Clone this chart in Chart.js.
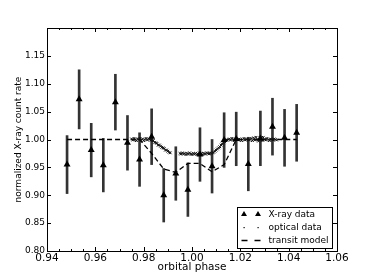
<!DOCTYPE html>
<html>
<head>
<meta charset="utf-8">
<script src="https://cdn.jsdelivr.net/npm/chart.js@4"></script>
<style>
  body { margin: 0; background: #fff; }
  #wrap { width: 374px; height: 280px; }
</style>
</head>
<body>
<div id="wrap"><canvas id="transitChart" width="374" height="280"></canvas></div>
<script>
// X-ray bins (phase, normalized rate, 1-sigma error)
const xrayPhase = [0.9483, 0.9533, 0.9583, 0.9633, 0.9683, 0.9733, 0.9783, 0.9833, 0.9883, 0.9933,
                   0.9983, 1.0033, 1.0083, 1.0133, 1.0183, 1.0233, 1.0283, 1.0333, 1.0383, 1.0433];
const xrayRate = [0.955, 1.072, 0.981, 0.954, 1.067, 0.994, 0.964, 1.005, 0.900, 0.939,
                  0.910, 0.973, 0.952, 0.999, 1.001, 0.956, 1.002, 1.023, 1.003, 1.012];
const xrayErr = [0.052, 0.053, 0.048, 0.048, 0.050, 0.049, 0.048, 0.050, 0.048, 0.048,
                 0.048, 0.048, 0.048, 0.049, 0.048, 0.048, 0.049, 0.051, 0.051, 0.051];

// transit model binned like the X-ray data
const modelPhase = [0.9483, 0.9783, 0.9833, 0.9883, 0.9933, 0.9983, 1.0033, 1.0083, 1.0133, 1.0183, 1.0433];
const modelRate = [1.000, 1.000, 0.975, 0.947, 0.941, 0.957, 0.957, 0.942, 0.955, 1.000, 1.000];

// optical light curve
const opticalPhase = [
  0.9750, 0.9755, 0.9760, 0.9765, 0.9770, 0.9775, 0.9780, 0.9785, 0.9790, 0.9795,
  0.9800, 0.9805, 0.9810, 0.9815, 0.9820, 0.9825,
  0.9830, 0.9835, 0.9840, 0.9845, 0.9850, 0.9855, 0.9860, 0.9865, 0.9870, 0.9875,
  0.9880, 0.9885, 0.9890, 0.9895, 0.9900, 0.9905, 0.9910,
  0.9950, 0.9955, 0.9960, 0.9965, 0.9970, 0.9975, 0.9980, 0.9985, 0.9990, 0.9995,
  1.0000, 1.0005, 1.0010, 1.0015, 1.0020, 1.0025, 1.0030, 1.0035, 1.0040, 1.0045,
  1.0050, 1.0055, 1.0060, 1.0065, 1.0070, 1.0075,
  1.0080, 1.0085, 1.0090, 1.0095, 1.0100, 1.0105, 1.0110, 1.0115, 1.0120, 1.0125,
  1.0130, 1.0135, 1.0140, 1.0145,
  1.0150, 1.0155, 1.0160, 1.0165, 1.0170, 1.0175, 1.0180, 1.0185, 1.0190, 1.0195,
  1.0200, 1.0205, 1.0210, 1.0215, 1.0220, 1.0225, 1.0230, 1.0235, 1.0240, 1.0245,
  1.0250, 1.0255, 1.0260, 1.0265, 1.0270, 1.0275, 1.0280, 1.0285, 1.0290, 1.0295,
  1.0300, 1.0305, 1.0310, 1.0315, 1.0320, 1.0325, 1.0330, 1.0335, 1.0340, 1.0345,
  1.0350
];
const opticalRate = [
  1.001, 0.999, 1.002, 1.000, 0.998, 1.001, 1.000, 1.002, 0.999, 1.001,
  0.998, 1.000, 1.002, 0.999, 1.001, 1.000,
  0.999, 0.998, 0.998, 0.995, 0.994, 0.993, 0.990, 0.990, 0.988, 0.986,
  0.985, 0.984, 0.981, 0.981, 0.979, 0.977, 0.976,
  0.975, 0.974, 0.976, 0.974, 0.975, 0.973, 0.975, 0.974, 0.976, 0.974,
  0.973, 0.975, 0.974, 0.975, 0.973, 0.974, 0.976, 0.974, 0.975, 0.973,
  0.975, 0.974, 0.976, 0.975, 0.974, 0.976,
  0.975, 0.976, 0.977, 0.979, 0.981, 0.983, 0.985, 0.987, 0.990, 0.992,
  0.994, 0.996, 0.998, 0.999,
  1.000, 1.001, 0.999, 1.002, 1.000, 0.998, 1.001, 1.000, 0.999, 1.001,
  1.000, 0.998, 1.000, 1.002, 0.999, 1.000, 1.001, 0.999, 1.000, 1.002,
  0.998, 1.003, 0.999, 1.004, 1.000, 0.997, 1.003, 1.001, 0.998, 1.004,
  1.000, 0.999, 1.002, 1.000, 0.998, 1.001, 1.000, 0.999, 1.001, 1.000,
  0.999
];

// axis ticks
const xMajorTicks = [0.94, 0.96, 0.98, 1.00, 1.02, 1.04, 1.06];
const xTickLabels = ['0.94', '0.96', '0.98', '1.00', '1.02', '1.04', '1.06'];
const xMinorTicks = [0.945, 0.950, 0.955, 0.965, 0.970, 0.975, 0.985, 0.990, 0.995,
                     1.005, 1.010, 1.015, 1.025, 1.030, 1.035, 1.045, 1.050, 1.055];
const yMajorTicks = [0.80, 0.85, 0.90, 0.95, 1.00, 1.05, 1.10, 1.15, 1.20];
const yTickLabels = ['0.80', '0.85', '0.90', '0.95', '1.00', '1.05', '1.10', '1.15', ''];

const legendItems = [
  { label: 'X-ray data', kind: 'triangle' },
  { label: 'optical data', kind: 'dot' },
  { label: 'transit model', kind: 'dash' }
];

const FONT = 'DejaVu Sans';

// inward tick marks on all four sides plus the frame
const frameTicks = {
  id: 'frameTicks',
  afterDatasetsDraw(chart) {
    const { ctx, chartArea: a, scales: { x, y } } = chart;
    ctx.save();
    ctx.strokeStyle = '#000';
    ctx.lineWidth = 1;
    ctx.beginPath();
    xMajorTicks.concat(xMinorTicks).forEach(v => {
      const len = xMajorTicks.includes(v) ? 4 : 2;
      const px = Math.round(x.getPixelForValue(v)) + 0.5;
      ctx.moveTo(px, a.bottom); ctx.lineTo(px, a.bottom - len);
      ctx.moveTo(px, a.top); ctx.lineTo(px, a.top + len);
    });
    yMajorTicks.forEach(v => {
      const py = Math.round(y.getPixelForValue(v)) + 0.5;
      ctx.moveTo(a.left, py); ctx.lineTo(a.left + 4, py);
      ctx.moveTo(a.right, py); ctx.lineTo(a.right - 4, py);
    });
    ctx.stroke();
    ctx.strokeRect(Math.round(a.left) + 0.5, Math.round(a.top) + 0.5,
                   Math.round(a.right - a.left), Math.round(a.bottom - a.top));
    ctx.restore();
  }
};

// matplotlib style legend in the lower right corner
const boxLegend = {
  id: 'boxLegend',
  afterDraw(chart) {
    const { ctx, chartArea: a } = chart;
    const w = 95, h = 41;
    const x0 = Math.round(a.right - 5 - w) + 0.5;
    const y0 = Math.round(a.bottom - 3 - h) + 0.5;
    ctx.save();
    ctx.fillStyle = '#fff';
    ctx.strokeStyle = '#000';
    ctx.lineWidth = 1;
    ctx.fillRect(x0, y0, w, h);
    ctx.strokeRect(x0, y0, w, h);
    ctx.font = '9px "' + FONT + '"';
    ctx.textBaseline = 'middle';
    legendItems.forEach((item, i) => {
      const cy = y0 + 6.5 + i * 13;
      ctx.fillStyle = '#000';
      if (item.kind === 'triangle') {
        [x0 + 6.5, x0 + 20.5].forEach(cx => {
          ctx.beginPath();
          ctx.moveTo(cx, cy - 3);
          ctx.lineTo(cx + 3, cy + 2);
          ctx.lineTo(cx - 3, cy + 2);
          ctx.closePath();
          ctx.fill();
        });
      } else if (item.kind === 'dot') {
        ctx.fillRect(x0 + 6, cy, 1.2, 1.2);
        ctx.fillRect(x0 + 20, cy, 1.2, 1.2);
      } else {
        ctx.beginPath();
        ctx.lineWidth = 1.3;
        ctx.moveTo(x0 + 4, cy + 0.5); ctx.lineTo(x0 + 10, cy + 0.5);
        ctx.moveTo(x0 + 17, cy + 0.5); ctx.lineTo(x0 + 23, cy + 0.5);
        ctx.stroke();
      }
      ctx.fillText(item.label, x0 + 31, cy + 1);
    });
    ctx.restore();
  }
};

const ctx = document.getElementById('transitChart').getContext('2d');
new Chart(ctx, {
  type: 'line',
  data: {
    datasets: [
      {
        label: 'X-ray data',
        data: xrayPhase.map((p, i) => ({ x: p, y: xrayRate[i] })),
        showLine: false,
        pointStyle: 'triangle',
        pointRadius: 4,
        backgroundColor: '#000',
        borderColor: '#000',
        borderWidth: 0,
        order: 0
      },
      {
        label: 'error',
        type: 'bar',
        data: xrayPhase.map((p, i) => ({ x: p, y: [xrayRate[i] - xrayErr[i], xrayRate[i] + xrayErr[i]] })),
        backgroundColor: '#333',
        borderWidth: 0,
        barThickness: 2,
        grouped: false,
        order: 3
      },
      {
        label: 'optical data',
        data: opticalPhase.map((p, i) => ({ x: p, y: opticalRate[i] })),
        showLine: false,
        pointStyle: 'crossRot',
        pointRadius: 1.9,
        borderColor: '#111',
        borderWidth: 1,
        order: 1
      },
      {
        label: 'transit model',
        data: modelPhase.map((p, i) => ({ x: p, y: modelRate[i] })),
        borderColor: '#000',
        borderWidth: 1.3,
        borderDash: [5, 3],
        pointRadius: 0,
        tension: 0,
        fill: false,
        order: 2
      }
    ]
  },
  options: {
    responsive: false,
    animation: false,
    layout: { padding: { top: 28, right: 37, left: 0, bottom: 0 } },
    plugins: {
      legend: { display: false },
      tooltip: { enabled: false }
    },
    scales: {
      x: {
        type: 'linear',
        min: 0.94,
        max: 1.06,
        offset: false,
        grid: { display: false, drawTicks: false },
        border: { display: false },
        afterBuildTicks: s => { s.ticks = xMajorTicks.map(v => ({ value: v })); },
        afterFit: s => { s.height = 29; },
        ticks: {
          autoSkip: false,
          maxRotation: 0,
          padding: 1,
          color: '#000',
          font: { family: FONT, size: 10.5 },
          callback: (v, i) => xTickLabels[i]
        },
        title: {
          display: true,
          text: 'orbital phase',
          color: '#000',
          font: { family: FONT, size: 10.5 },
          padding: { top: 0, bottom: 6 }
        }
      },
      y: {
        min: 0.80,
        max: 1.20,
        grid: { display: false, drawTicks: false },
        border: { display: false },
        afterBuildTicks: s => { s.ticks = yMajorTicks.map(v => ({ value: v })); },
        afterFit: s => { s.width = 47; },
        ticks: {
          autoSkip: false,
          padding: 2,
          color: '#000',
          font: { family: FONT, size: 9 },
          callback: (v, i) => yTickLabels[i]
        },
        title: {
          display: true,
          text: 'normalized X-ray count rate',
          color: '#000',
          font: { family: FONT, size: 9 },
          padding: { top: 13, bottom: 0 }
        }
      }
    }
  },
  plugins: [frameTicks, boxLegend]
});
</script>
</body>
</html>
